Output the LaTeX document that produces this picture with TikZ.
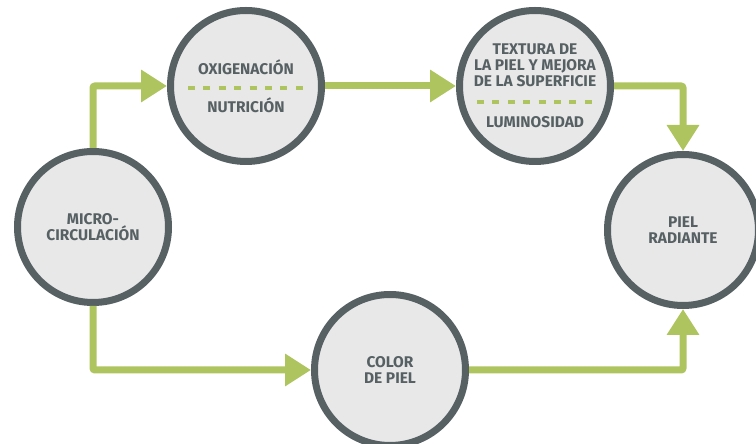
\documentclass[tikz,border=0pt]{standalone}
\usepackage{fontspec}
\setmainfont{Fira Sans}
\usetikzlibrary{arrows.meta}
\definecolor{verde}{HTML}{AEC45F}
\definecolor{gris}{HTML}{576163}
\definecolor{fondo}{HTML}{E8E8E8}

\begin{document}
\begin{tikzpicture}[x=1pt,y=1pt,
		circulo/.style={circle,draw=gris,line width=7pt,fill=fondo,minimum size=151pt,inner sep=0pt,align=center,text=gris,font=\bfseries\fontsize{15.5}{16}\selectfont},
		etiqueta/.style={inner sep=0pt,align=center,text=gris,font=\bfseries\fontsize{15.5}{16}\selectfont},
		flecha/.style={verde,line width=7pt,rounded corners=2pt,-{Triangle[length=26pt,width=31pt]}},
		separador/.style={verde,line width=3.5pt,dash pattern=on 7pt off 8.4pt}]
		\useasboundingbox (0,0) rectangle (756,444);
		
		\node[circulo] (micro) at (93,217) {MICRO-\\CIRCULACIÓN};
		\node[circulo] (oxi) at (246,358) {};
		\node[circulo] (textura) at (535,358) {};
		\node[circulo] (piel) at (683,214) {PIEL\\RADIANTE};
		\node[circulo] (color) at (390,74) {COLOR\\DE PIEL};
		
		\node[etiqueta,anchor=base] (oxitxt) at ([yshift=11pt]oxi.center) {OXIGENACIÓN};
		\node[etiqueta,anchor=base] (nutritxt) at ([yshift=-27pt]oxi.center) {NUTRICIÓN};
		\node[etiqueta] (texturatxt) at ([yshift=21pt]textura.center) {TEXTURA DE\\LA PIEL Y MEJORA\\DE LA SUPERFICIE};
		\node[etiqueta,anchor=base] (lumitxt) at ([yshift=-42pt]textura.center) {LUMINOSIDAD};
		
		\foreach \c/\y in {oxi/-2, textura/-16}{
			\draw[separador] ([shift={(-58,\y)}]\c.center) -- ([shift={(58,\y)}]\c.center);
		}
		
		\draw[flecha] (micro) |- (oxi);
		\draw[flecha] (oxi) -- (textura);
		\draw[flecha] (textura) -| (piel);
		\draw[flecha] (micro) |- (color);
		\draw[flecha] (color) -| (piel);
	\end{tikzpicture}
\end{document}
